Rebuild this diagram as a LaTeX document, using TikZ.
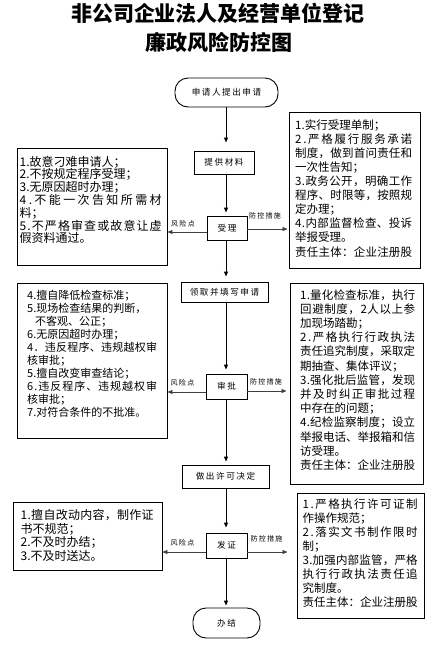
\documentclass[tikz,border=0pt]{standalone}
\usepackage{fontspec}
\setmainfont{Noto Sans CJK SC}
\newfontfamily\lblfont[LetterSpace=18]{Noto Sans CJK SC}
\usetikzlibrary{arrows.meta}
\newcommand\spl[1]{\makebox[\hsize][s]{\splA#1\relax}}
\def\splA#1{#1\splB}
\def\splB#1{\ifx#1\relax\else\hfil#1\expandafter\splB\fi}
\tikzset{
  flowbox/.style={draw, line width=0.9pt, inner sep=0pt, font=\lblfont\fontsize{8.6}{9.5}\selectfont},
  endbox/.style={flowbox, rounded corners=13pt},
  txtbox/.style={draw, line width=0.9pt, inner sep=0pt},
  boxtext/.style={inner sep=0pt, anchor=north west, align=left},
  flow/.style={line width=1pt, -{Triangle[length=5pt,width=4pt]}},
  side/.style={line width=0.8pt, black!75, -{Triangle[length=5pt,width=4pt]}},
  risklbl/.style={inner sep=0pt, font=\lblfont\fontsize{7}{8}\selectfont},
  titletext/.style={inner sep=0pt, font=\bfseries\fontsize{21}{24}\selectfont}
}
\begin{document}
\begin{tikzpicture}[x=1pt,y=-1pt]
\useasboundingbox (0,0) rectangle (447,649);
% title
\node[titletext] (t1) at (218,13) {非公司企业法人及经营单位登记};
\node[titletext] (t2) at (219,42) {廉政风险防控图};
% flow nodes
\node[endbox, minimum width=103pt, minimum height=29pt] (start) at (226.5,92.5) {申请人提出申请};
\node[flowbox, minimum width=60pt, minimum height=23pt] (tg) at (224,162.5) {提供材料};
\node[flowbox, minimum width=40pt, minimum height=24pt] (sl) at (227,228) {受理};
\node[flowbox, minimum width=87pt, minimum height=20pt] (lq) at (224.5,292) {领取并填写申请};
\node[flowbox, minimum width=41pt, minimum height=25pt] (sp) at (226.5,386.5) {审批};
\node[flowbox, minimum width=87pt, minimum height=23pt] (zc) at (225.5,476.5) {做出许可决定};
\node[flowbox, minimum width=41pt, minimum height=25pt] (fz) at (226.5,545.5) {发证};
\node[endbox, minimum width=67pt, minimum height=30pt] (bj) at (226.5,623) {办结};
% side boxes
\node[txtbox, minimum width=150pt, minimum height=117pt] (L1) at (92,206.5) {};
\node[txtbox, minimum width=131pt, minimum height=156pt] (R1) at (354.5,190) {};
\node[txtbox, minimum width=150pt, minimum height=155pt] (L2) at (92,360.5) {};
\node[txtbox, minimum width=133pt, minimum height=201pt] (R2) at (356.5,383.5) {};
\node[txtbox, minimum width=149pt, minimum height=68pt] (L3) at (87.5,536) {};
\node[txtbox, minimum width=127pt, minimum height=125pt] (R3) at (360.5,555.5) {};
% texts
\node[boxtext, text width=142pt, font=\fontsize{12}{12.8}\selectfont] (L1t) at (19.5,155.8) {%
1.故意刁难申请人；\\
2.不按规定程序受理；\\
3.无原因超时办理；\\
\spl{4.不能一次告知所需材}\\
料；\\
\spl{5.不严格审查或故意让虚}\\
假资料通过。};
\node[boxtext, text width=117pt, font=\fontsize{11.5}{14.1}\selectfont] (R1t) at (295,119.2) {%
1.实行受理单制；\\
\spl{2.严格履行服务承诺}\\
\spl{制度，做到首问责任和}\\
一次性告知；\\
\spl{3.政务公开，明确工作}\\
\spl{程序、时限等，按照规}\\
定办理；\\
\spl{4.内部监督检查、投诉}\\
举报受理。\\
\spl{责任主体：企业注册股}};
\node[boxtext, text width=130pt, font=\fontsize{11}{13.1}\selectfont] (L2t) at (27,289.5) {%
4.擅自降低检查标准；\\
5.现场检查结果的判断，\\
\hspace*{8pt}不客观、公正；\\
6.无原因超时办理；\\
\spl{4．违反程序、违规越权审}\\
核审批；\\
5.擅自改变审查结论；\\
\spl{6.违反程序、违规越权审}\\
核审批；\\
7.对符合条件的不批准。};
\node[boxtext, text width=115pt, font=\fontsize{11.5}{14.2}\selectfont] (R2t) at (300,289.2) {%
\spl{1.量化检查标准，执行}\\
\spl{回避制度，2人以上参}\\
加现场踏勘；\\
\spl{2.严格执行行政执法}\\
\spl{责任追究制度，采取定}\\
期抽查、集体评议；\\
\spl{3.强化批后监管，发现}\\
\spl{并及时纠正审批过程}\\
中存在的问题；\\
\spl{4.纪检监察制度；设立}\\
\spl{举报电话、举报箱和信}\\
访受理。\\
\spl{责任主体：企业注册股}};
\node[boxtext, text width=133pt, font=\fontsize{12}{13.7}\selectfont] (L3t) at (20.5,509) {%
\spl{1.擅自改动内容，制作证}\\
书不规范；\\
2.不及时办结；\\
3.不及时送达。};
\node[boxtext, text width=115pt, font=\fontsize{11.5}{14}\selectfont] (R3t) at (302.5,498.2) {%
\spl{1.严格执行许可证制}\\
作操作规范；\\
\spl{2.落实文书制作限时}\\
制；\\
\spl{3.加强内部监管，严格}\\
\spl{执行行政执法责任追}\\
究制度。\\
\spl{责任主体：企业注册股}};
% vertical flow
\coordinate (axis) at (226,0);
\draw[flow, shorten >=8pt] (start.south -| axis) -- (tg.north -| axis);
\draw[flow, shorten >=3pt] (tg.south -| axis) -- (sl.north -| axis);
\draw[flow, shorten >=5pt] (sl.south -| axis) -- (lq.north -| axis);
\draw[flow, shorten >=4pt] (lq.south -| axis) -- (sp.north -| axis);
\draw[flow, shorten >=3pt] (sp.south -| axis) -- (zc.north -| axis);
\draw[flow, shorten >=5pt] (zc.south -| axis) -- (fz.north -| axis);
\draw[flow, shorten >=2pt] (fz.south -| axis) -- (bj.north -| axis);
% side arrows
\draw[side] ([yshift=-4pt]sl.west) -- ([yshift=-4pt]sl.west -| L1.east);
\draw[side, shorten >=1pt] ([yshift=-1pt]sl.east) -- ([yshift=-1pt]sl.east -| R1.west);
\draw[side] ([yshift=-5.5pt]sp.west) -- ([yshift=-5.5pt]sp.west -| L2.east);
\draw[side, shorten >=3pt] ([yshift=-4.5pt]sp.east) -- ([yshift=-4.5pt]sp.east -| R2.west);
\draw[side] ([yshift=-6.5pt]fz.west) -- ([yshift=-6.5pt]fz.west -| L3.east);
\draw[side, shorten >=9pt] ([yshift=-6.5pt]fz.east) -- ([yshift=-6.5pt]fz.east -| R3.west);
% labels
\node[risklbl] (r1) at (183,224) {风险点};
\node[risklbl] (p1) at (265,216) {防控措施};
\node[risklbl] (r2) at (182.5,383) {风险点};
\node[risklbl] (p2) at (266,382) {防控措施};
\node[risklbl] (r3) at (182.5,543) {风险点};
\node[risklbl] (p3) at (266.5,539) {防控措施};
\end{tikzpicture}
\end{document}
